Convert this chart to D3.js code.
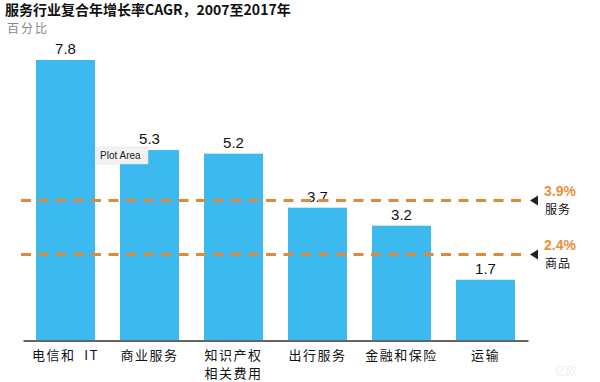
<!DOCTYPE html>
<html><head><meta charset="utf-8">
<script src="https://cdn.jsdelivr.net/npm/d3@7"></script>
<style>
html,body{margin:0;padding:0;background:#fff;}
svg{display:block;}
</style></head>
<body>
<svg id="chart" width="600" height="382"></svg>
<script>
const categories = [["电信和  IT"], ["商业服务"], ["知识产权", "相关费用"], ["出行服务"], ["金融和保险"], ["运输"]];
const values = [7.8, 5.3, 5.2, 3.7, 3.2, 1.7];
const refValues = [3.9, 2.4];
const refLabels = ["3.9%", "2.4%"];
const refNames = ["服务", "商品"];
const title = "服务行业复合年增长率CAGR，2007至2017年";
const unit = "百分比";

const svg = d3.select("#chart");
const cjk = "'Noto Sans CJK SC', 'Noto Sans', sans-serif";
const latin = "'Liberation Sans', Arial, sans-serif";

const x = d3.scaleBand().domain(categories.map((d, i) => i))
  .range([23.5, 527.5]).paddingInner(0.2976).paddingOuter(0.1488);
const y = d3.scaleLinear().domain([0, 7.8]).range([341, 60]);

// title
svg.append("text").attr("x", 5).attr("y", 15)
  .attr("font-family", cjk).attr("font-weight", "bold").attr("font-size", 14)
  .attr("fill", "#111").text(title);
svg.append("text").attr("x", 7).attr("y", 33)
  .attr("font-family", cjk).attr("font-size", 12).attr("fill", "#888")
  .attr("letter-spacing", 2).text(unit);

// bars
svg.selectAll("rect.bar").data(values).join("rect").attr("class", "bar")
  .attr("x", (d, i) => x(i)).attr("width", x.bandwidth())
  .attr("y", d => y(d)).attr("height", d => y(0) - y(d))
  .attr("fill", "#3CB9EE");

// value labels
svg.selectAll("text.val").data(values).join("text").attr("class", "val")
  .attr("x", (d, i) => x(i) + x.bandwidth() / 2).attr("y", d => y(d) - 6)
  .attr("text-anchor", "middle").attr("font-family", latin).attr("font-size", 15)
  .attr("fill", "#111").text(d => d.toFixed(1));

// axis baseline
const axis = d3.axisBottom(x).tickSize(0).tickFormat("");
const gAxis = svg.append("g").attr("transform", `translate(0,${y(0)})`).call(axis);
gAxis.select(".domain").attr("stroke", "#666").attr("stroke-width", 2)
  .attr("d", "M23.5,0H528.5");

// category labels
categories.forEach((lines, i) => {
  const cx = x(i) + x.bandwidth() / 2;
  const t = svg.append("text").attr("x", cx).attr("y", 360)
    .attr("text-anchor", "middle").attr("font-family", cjk).attr("font-size", 13)
    .attr("letter-spacing", 1.5).attr("xml:space", "preserve").style("white-space", "pre")
    .attr("fill", "#111");
  lines.forEach((l, j) => t.append("tspan").attr("x", cx)
    .attr("dy", j === 0 ? 0 : 18).text(l));
});

// reference lines
refValues.forEach((v, i) => {
  const yy = y(v);
  svg.append("line").attr("x1", 21).attr("x2", 526).attr("y1", yy).attr("y2", yy)
    .attr("stroke", "#E0893A").attr("stroke-width", 3)
    .attr("stroke-dasharray", "10,7.5");
  svg.append("path").attr("d", `M530,${yy}L538,${yy - 5}L538,${yy + 5}Z`).attr("fill", "#222");
  svg.append("text").attr("x", 544).attr("y", yy - 5)
    .attr("font-family", latin).attr("font-weight", "bold").attr("font-size", 14)
    .attr("fill", "#E8923A").text(refLabels[i]);
  svg.append("text").attr("x", 545).attr("y", yy + 13)
    .attr("font-family", cjk).attr("font-size", 12).attr("letter-spacing", 1)
    .attr("fill", "#111").text(refNames[i]);
});

// "Plot Area" tooltip artifact
const tip = svg.append("g").attr("transform", "translate(96,147)");
tip.append("rect").attr("width", 52).attr("height", 17).attr("fill", "#f2f2f2")
  .attr("stroke", "#ddd").attr("stroke-width", 0.5);
tip.append("text").attr("x", 4).attr("y", 12).attr("font-family", latin)
  .attr("font-size", 10).attr("fill", "#222").text("Plot Area");

// faint watermark
svg.append("text").attr("x", 555).attr("y", 375).attr("font-family", cjk)
  .attr("font-size", 11).attr("fill", "#eeeeee").text("亿欧");
</script>
</body></html>
